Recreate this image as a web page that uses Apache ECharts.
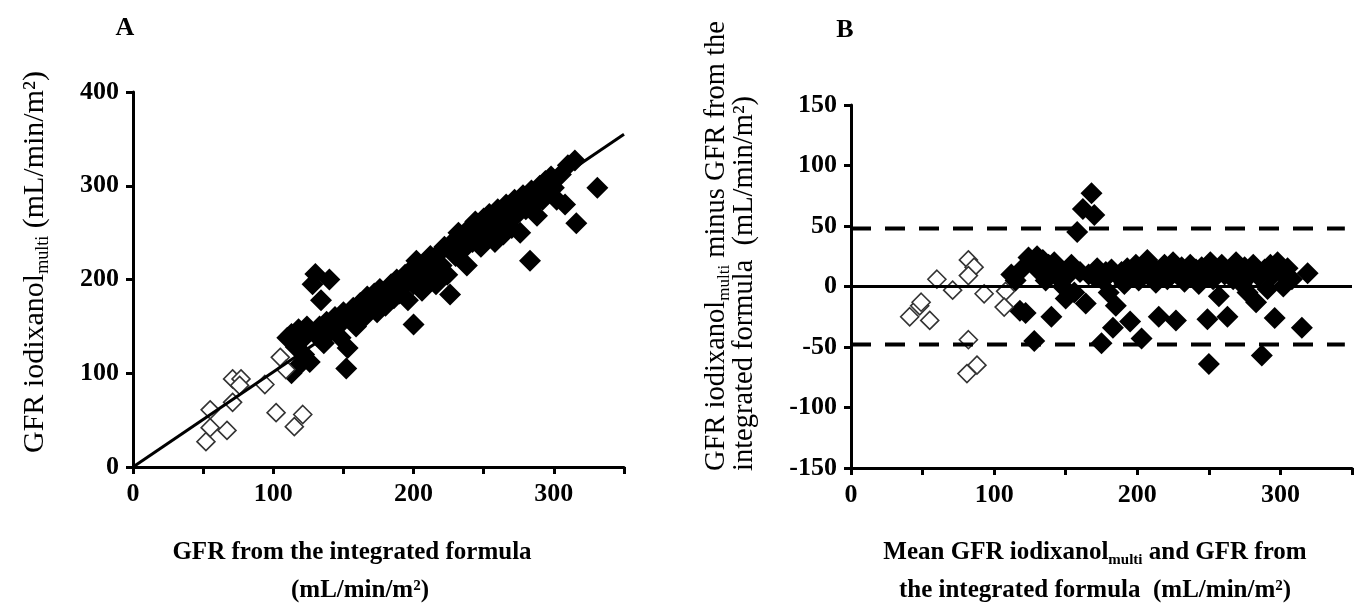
<!DOCTYPE html>
<html>
<head>
<meta charset="utf-8">
<script src="https://cdn.jsdelivr.net/npm/echarts@6/dist/echarts.min.js"></script>
<style>
html,body{margin:0;padding:0;background:#fff;}
#chart{width:1366px;height:614px;}
</style>
</head>
<body>
<div id="chart"></div>
<script>
// ---------- Panel A data: [GFR integrated formula, GFR iodixanol multi] ----------
const panelAOpen = [
  [52,27],[55,42],[55,61],[67,39],[71,69],[71,94],[77,94],[76,87],[94,88],
  [102,58],[105,117],[109,104],[115,43],[121,56]
];
const panelAFilled = [
  [110,138],[113,142],[116,128],[118,147],[120,135],[122,120],[124,150],[126,112],
  [128,195],[130,206],[134,178],[140,200],[131,140],[133,150],[136,132],[138,155],
  [141,145],[144,160],[146,150],[148,138],[150,165],[152,105],[153,127],[155,158],
  [157,170],[159,150],[160,162],[113,100],[118,108],
  [162,175],[165,160],[167,182],[170,170],[172,185],[174,165],[176,190],[178,178],
  [180,172],[182,188],[184,195],[186,180],[188,200],[190,185],[192,192],[194,205],
  [196,178],[198,210],[200,152],[200,195],[202,220],[204,205],[206,188],[208,215],
  [210,200],[212,225],[214,210],[216,195],[218,228],[220,215],
  [222,235],[224,205],[226,184],[228,240],[230,225],[232,250],[234,230],[236,245],
  [238,215],[240,255],[242,240],[244,262],[246,250],[248,235],[250,265],[252,245],
  [254,270],[256,258],[258,240],[260,275],[262,262],[264,248],[266,280],[268,265],
  [270,255],
  [272,285],[274,270],[276,250],[278,290],[280,275],[283,220],[284,295],[286,280],
  [288,268],[290,300],[292,285],[294,305],[296,292],[298,310],[300,298],[302,285],
  [305,312],[308,280],[310,322],[315,327],[316,260],[331,298]
];
const regressionLine = [[0,0],[350,355]];

// ---------- Panel B data: [mean, difference] ----------
const panelBOpen = [
  [41,-25],[48,-16],[49,-13],[55,-28],[60,6],[71,-3],[82,22],[86,16],[82,9],
  [93,-6],[108,-4],[107,-17],[82,-44],[88,-65],[81,-72]
];
const panelBFilled = [
  [112,10],[115,5],[118,-20],[120,15],[122,-22],[124,24],[126,20],[128,-45],
  [130,25],[132,12],[134,22],[136,5],[138,18],[140,-25],[142,20],[144,8],
  [146,14],[148,0],[150,-10],[152,10],[154,18],[156,-5],[158,45],[162,64],
  [168,77],[170,59],[160,12],[164,-14],
  [166,10],[170,8],[172,15],[175,-47],[176,5],[178,12],[180,-5],[182,14],
  [183,-34],[185,-16],[187,8],[189,12],[191,2],[193,15],[195,-29],[197,10],
  [199,18],[201,5],[203,-43],[205,14],[207,22],[209,8],[211,16],[213,3],
  [215,-25],[217,12],[219,18],
  [221,6],[223,14],[225,20],[227,-28],[229,10],[231,16],[233,4],[235,12],
  [237,18],[239,8],[241,14],[243,2],[245,16],[247,10],[249,-27],[250,-64],
  [251,20],[253,6],[255,14],[257,-8],[259,18],[261,10],[263,-25],[265,14],
  [267,6],[269,20],
  [271,12],[273,2],[275,16],[277,-5],[279,10],[281,18],[283,-13],[285,8],
  [287,-57],[289,14],[291,-2],[293,18],[295,10],[296,-26],[298,20],[300,12],
  [302,0],[305,15],[308,6],[315,-34],[319,11]
];
const biasLine = [[0,0],[350,0]];
const upperLimit = [[0,48],[345,48]];
const lowerLimit = [[0,-48],[345,-48]];

// ---------- tick labels ----------
const xTicksA = [0,100,200,300];
const yTicksA = [0,100,200,300,400];
const xTicksB = [0,100,200,300];
const yTicksB = [-150,-100,-50,0,50,100,150];

const FONT = 'Liberation Serif';

function axisCommon(ticks) {
  return {
    axisLine: {show: true, onZero: false, lineStyle: {color: '#000', width: 3}},
    axisTick: {show: true, inside: false, length: 7, lineStyle: {color: '#000', width: 3}},
    splitLine: {show: false},
    axisLabel: {
      fontFamily: FONT, fontWeight: 'bold', fontSize: 26, color: '#000', margin: 14,
      formatter: function (v) { return ticks.indexOf(v) >= 0 ? String(v) : ''; }
    }
  };
}

const regular = {fontFamily: FONT, fontSize: 30, fontWeight: 'normal', color: '#000', lineHeight: 34};
const regularSub = {fontFamily: FONT, fontSize: 18, fontWeight: 'normal', color: '#000', verticalAlign: 'bottom'};
const regularB = {fontFamily: FONT, fontSize: 28.5, fontWeight: 'normal', color: '#000', lineHeight: 32};
const regularSubB = {fontFamily: FONT, fontSize: 17, fontWeight: 'normal', color: '#000', verticalAlign: 'bottom'};
const bold = {fontFamily: FONT, fontSize: 25, fontWeight: 'bold', color: '#000', lineHeight: 30};
const boldSub = {fontFamily: FONT, fontSize: 15, fontWeight: 'bold', color: '#000', verticalAlign: 'bottom'};

function txt(x, y, text, rich, opts) {
  opts = opts || {};
  return {
    type: 'text', x: x, y: y, rotation: opts.rotation || 0, silent: true,
    style: {
      text: text, rich: rich, fill: '#000',
      font: (opts.bold ? 'bold ' : '') + (opts.size || 26) + 'px "' + FONT + '"',
      align: opts.align || 'center', verticalAlign: 'middle'
    }
  };
}

const option = {
  animation: false,
  backgroundColor: '#fff',
  grid: [
    {left: 133, top: 92, width: 491, height: 375},
    {left: 851, top: 105, width: 501, height: 363}
  ],
  xAxis: [
    Object.assign({type: 'value', gridIndex: 0, min: 0, max: 350, interval: 50}, axisCommon(xTicksA)),
    Object.assign({type: 'value', gridIndex: 1, min: 0, max: 350, interval: 50}, axisCommon(xTicksB))
  ],
  yAxis: [
    Object.assign({type: 'value', gridIndex: 0, min: 0, max: 400, interval: 100}, axisCommon(yTicksA)),
    Object.assign({type: 'value', gridIndex: 1, min: -150, max: 150, interval: 50}, axisCommon(yTicksB))
  ],
  series: [
    {type: 'scatter', xAxisIndex: 0, yAxisIndex: 0, data: panelAFilled, symbol: 'diamond', symbolSize: 22,
     itemStyle: {color: '#000', opacity: 1}, z: 2, silent: true},
    {type: 'scatter', xAxisIndex: 0, yAxisIndex: 0, data: panelAOpen, symbol: 'diamond', symbolSize: 18,
     itemStyle: {color: '#fff', borderColor: '#333', borderWidth: 1.6, opacity: 1}, z: 3, silent: true},
    {type: 'line', xAxisIndex: 0, yAxisIndex: 0, data: regressionLine, showSymbol: false, symbol: 'none',
     lineStyle: {color: '#000', width: 3}, z: 4, silent: true},
    {type: 'scatter', xAxisIndex: 1, yAxisIndex: 1, data: panelBFilled, symbol: 'diamond', symbolSize: 22,
     itemStyle: {color: '#000', opacity: 1}, z: 2, silent: true},
    {type: 'scatter', xAxisIndex: 1, yAxisIndex: 1, data: panelBOpen, symbol: 'diamond', symbolSize: 18,
     itemStyle: {color: '#fff', borderColor: '#333', borderWidth: 1.6, opacity: 1}, z: 3, silent: true},
    {type: 'line', xAxisIndex: 1, yAxisIndex: 1, data: biasLine, showSymbol: false, symbol: 'none',
     lineStyle: {color: '#000', width: 3}, z: 4, silent: true},
    {type: 'line', xAxisIndex: 1, yAxisIndex: 1, data: upperLimit, showSymbol: false, symbol: 'none',
     lineStyle: {color: '#000', width: 4, type: [20, 14]}, z: 4, silent: true},
    {type: 'line', xAxisIndex: 1, yAxisIndex: 1, data: lowerLimit, showSymbol: false, symbol: 'none',
     lineStyle: {color: '#000', width: 4, type: [20, 14]}, z: 4, silent: true}
  ],
  graphic: [
    txt(125, 28, 'A', null, {bold: true, size: 26}),
    txt(845, 30, 'B', null, {bold: true, size: 26}),
    // Panel A y title
    txt(35, 262, '{n|GFR iodixanol}{s|multi}{n| (mL/min/m²)}', {n: regular, s: regularSub},
        {rotation: Math.PI / 2}),
    // Panel A x title
    txt(352, 553, 'GFR from the integrated formula', null, {bold: true, size: 25}),
    txt(360, 591, '(mL/min/m²)', null, {bold: true, size: 25}),
    // Panel B y title (two lines, bottom aligned)
    txt(717, 471, '{n|GFR iodixanol}{s|multi}{n| minus GFR from the}', {n: regularB, s: regularSubB},
        {rotation: Math.PI / 2, align: 'left'}),
    txt(745, 471, '{n|integrated formula  (mL/min/m²)}', {n: regularB, s: regularSubB},
        {rotation: Math.PI / 2, align: 'left'}),
    // Panel B x title
    txt(1095, 553, '{b|Mean GFR iodixanol}{s|multi}{b| and GFR from}', {b: bold, s: boldSub}, {bold: true, size: 25}),
    txt(1095, 591, 'the integrated formula  (mL/min/m²)', null, {bold: true, size: 25})
  ]
};

const chart = echarts.init(document.getElementById('chart'), null, {renderer: 'canvas'});
chart.setOption(option);
</script>
</body>
</html>
